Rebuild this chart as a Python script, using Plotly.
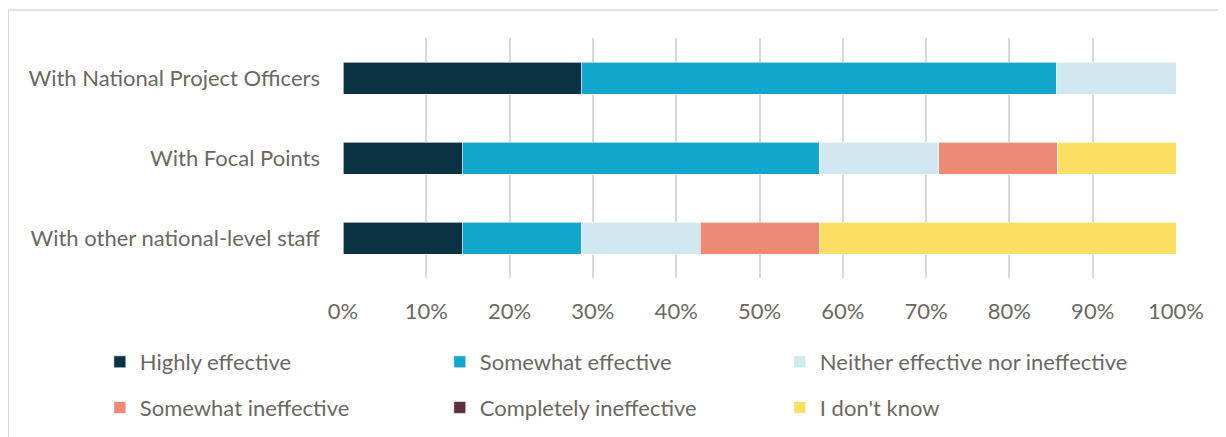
import plotly.graph_objects as go

# rows of the chart (top to bottom)
grupos = ['With National Project Officers', 'With Focal Points', 'With other national-level staff']

# share of answers per row (n = 7 respondents)
highly = [0.286, 0.143, 0.143]
somewhat = [0.571, 0.429, 0.143]
neither = [0.143, 0.143, 0.143]
somewhat_in = [0.0, 0.143, 0.143]
completely_in = [0.0, 0.0, 0.0]
dont_know = [0.0, 0.143, 0.429]

series = [
    ('Highly effective', highly, '#0a3242'),
    ('Somewhat effective', somewhat, '#12a6cc'),
    ('Neither effective nor ineffective', neither, '#d1e8f1'),
    ('Somewhat ineffective', somewhat_in, '#ed8a74'),
    ('Completely ineffective', completely_in, '#5f2f3d'),
    ("I don't know", dont_know, '#fcdf62'),
]

fonte = dict(family='Lato', size=22, color='#6b6863')

# one legend per entry so the 3x2 grid lines up like the original
leg_x = [-0.2919, 0.1162, 0.5244]
leg_y = [-0.35, -0.54]

fig = go.Figure()
legendas = {}
for i, (nome, vals, cor) in enumerate(series):
    ref = 'legend' if i == 0 else f'legend{i + 1}'
    fig.add_trace(go.Bar(
        y=grupos, x=vals, name=nome, orientation='h',
        marker=dict(color=cor, line=dict(color='white', width=0.6)),
        legend=ref, showlegend=True,
    ))
    legendas[ref] = dict(orientation='h', x=leg_x[i % 3], y=leg_y[i // 3],
                         xanchor='left', yanchor='middle', font=fonte,
                         bgcolor='rgba(0,0,0,0)', visible=True)

fig.update_layout(
    width=1226, height=437,
    margin=dict(l=335, r=58, t=30, b=167),
    barmode='stack', bargap=0.6,
    showlegend=True,
    plot_bgcolor='white', paper_bgcolor='white',
    font=fonte,
    xaxis=dict(range=[0, 1], dtick=0.1, tickformat='.0%', showgrid=True,
               gridcolor='#d9d9d9', gridwidth=2, zeroline=False,
               ticklabelstandoff=18, fixedrange=True),
    yaxis=dict(categoryorder='array', categoryarray=grupos, autorange='reversed',
               showgrid=False, ticklabelstandoff=22),
    shapes=[
        dict(type='line', xref='paper', yref='paper', x0=-0.4022, x1=-0.4022,
             y0=1.117, y1=-0.75, line=dict(color='#d9d9d9', width=2)),
        dict(type='line', xref='paper', yref='paper', x0=-0.4022, x1=1.1,
             y0=1.117, y1=1.117, line=dict(color='#d9d9d9', width=1.5)),
    ],
    **legendas,
)

fig.write_html("out.html")
